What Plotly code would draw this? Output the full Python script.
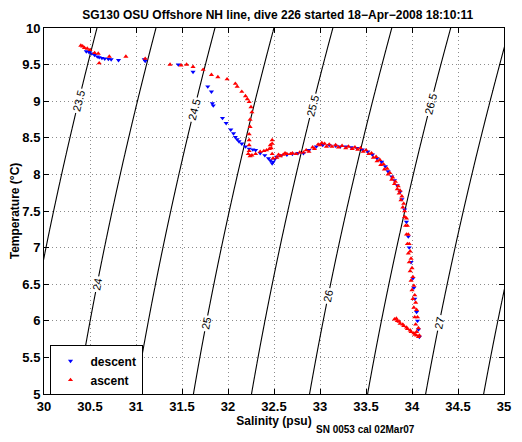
import numpy as np
import plotly.graph_objects as go

# ---- data ----
descent_S = [30.46, 30.49, 30.52, 30.55, 30.58, 30.60, 30.63, 30.66, 30.70, 30.73, 30.81, 31.09, 31.10,
             31.46, 31.62, 31.78, 31.82, 31.83, 31.84, 31.94, 31.98, 32.03, 32.06, 32.08, 32.10, 32.12,
             32.15, 32.19, 32.23, 32.27, 32.30, 32.35, 32.40, 32.44, 32.46, 32.48, 32.49, 32.51, 32.53,
             32.58, 32.64, 32.70, 32.76, 32.82, 32.88, 32.96, 33.03, 33.10, 33.17, 33.22, 33.28, 33.34,
             33.40, 33.46, 33.52, 33.57, 33.62, 33.67, 33.71, 33.74, 33.78, 33.81, 33.84, 33.87, 33.89,
             33.92, 33.94, 33.96, 33.97, 33.99, 34.01, 34.02, 34.03, 34.05, 34.06, 34.07, 34.08]
descent_T = [9.68, 9.67, 9.65, 9.63, 9.61, 9.60, 9.59, 9.58, 9.575, 9.57, 9.56, 9.57, 9.55,
             9.50, 9.40, 9.20, 9.13, 8.97, 8.94, 8.77, 8.70, 8.61, 8.56, 8.51, 8.48, 8.45,
             8.42, 8.38, 8.35, 8.34, 8.33, 8.29, 8.26, 8.22, 8.19, 8.15, 8.17, 8.21, 8.24,
             8.26, 8.27, 8.28, 8.29, 8.29, 8.33, 8.38, 8.40, 8.40, 8.39, 8.38, 8.38, 8.37,
             8.36, 8.34, 8.31, 8.27, 8.22, 8.17, 8.11, 8.04, 7.97, 7.92, 7.85, 7.76, 7.66,
             7.52, 7.35, 7.15, 7.00, 6.80, 6.58, 6.45, 6.30, 6.12, 6.00, 5.88, 5.78]

ascent_S = [33.81, 33.84, 33.87, 33.91, 33.95, 33.99, 34.03, 34.07, 34.08, 34.07, 34.06, 34.05, 34.04,
            34.03, 34.02, 34.01, 34.00, 33.99, 33.98, 33.97, 33.96, 33.95, 33.94, 33.92, 33.91, 33.89,
            33.87, 33.85, 33.82, 33.79, 33.76, 33.73, 33.69, 33.65, 33.61, 33.56, 33.50, 33.44, 33.38,
            33.31, 33.24, 33.17, 33.10, 33.05, 33.00, 32.94, 32.88, 32.82, 32.74, 32.68, 32.64, 32.60,
            32.57, 32.53, 32.49, 32.48, 32.47, 32.48, 32.48, 32.46, 32.45, 32.42, 32.39, 32.35, 32.30,
            32.26, 32.24, 32.22, 32.23, 32.23, 32.23, 32.23, 32.24, 32.24, 32.26, 32.25, 32.23, 32.21,
            32.19, 32.15, 32.10, 32.08, 31.99, 31.89, 31.82, 31.73, 31.62, 31.55, 31.49, 31.37, 31.10,
            30.89, 30.71, 30.60, 30.59, 30.55, 30.50, 30.47, 30.44, 30.42, 30.40,
            # inner edge of the thick deep band
            34.05, 34.04, 34.03, 34.02, 34.01, 34.00, 33.99, 33.98, 33.97, 33.96, 33.95, 33.94, 33.93,
            33.92, 33.90, 33.88, 33.86, 33.84, 33.81, 33.78, 33.74, 33.70, 33.66, 33.62, 33.58, 33.53,
            33.47, 33.41, 33.35, 33.28, 33.20, 33.13, 33.07,
            33.83, 33.86, 33.90, 33.94, 33.98, 34.02, 34.05,
            32.55, 32.62, 32.70, 32.78, 32.85, 32.92, 32.98, 33.02]
ascent_T = [6.02, 6.00, 5.96, 5.93, 5.89, 5.85, 5.81, 5.78, 5.80, 5.90, 6.05, 6.15, 6.25,
            6.35, 6.48, 6.60, 6.72, 6.85, 6.95, 7.05, 7.18, 7.30, 7.40, 7.50, 7.60, 7.70,
            7.78, 7.84, 7.90, 7.96, 8.02, 8.08, 8.14, 8.20, 8.24, 8.29, 8.33, 8.36, 8.37,
            8.38, 8.39, 8.40, 8.41, 8.42, 8.40, 8.35, 8.31, 8.30, 8.28, 8.28, 8.28, 8.27,
            8.25, 8.23, 8.22, 8.28, 8.36, 8.42, 8.47, 8.40, 8.35, 8.33, 8.32, 8.31, 8.28,
            8.26, 8.25, 8.28, 8.32, 8.40, 8.47, 8.55, 8.65, 8.75, 8.85, 8.92, 8.99, 9.03,
            9.07, 9.13, 9.20, 9.24, 9.30, 9.33, 9.36, 9.43, 9.47, 9.50, 9.49, 9.50, 9.58,
            9.61, 9.61, 9.52, 9.65, 9.66, 9.70, 9.72, 9.73, 9.75, 9.76,
            5.85, 5.95, 6.05, 6.18, 6.30, 6.42, 6.55, 6.68, 6.80, 6.92, 7.05, 7.18, 7.30,
            7.42, 7.55, 7.65, 7.74, 7.80, 7.87, 7.93, 8.00, 8.07, 8.13, 8.18, 8.23, 8.28,
            8.31, 8.34, 8.35, 8.36, 8.37, 8.38, 8.38,
            6.03, 5.99, 5.95, 5.91, 5.87, 5.83, 5.80,
            8.27, 8.29, 8.29, 8.30, 8.33, 8.37, 8.41, 8.43]

sigma_levels = [23.0, 28.0, 0.5]  # start, end, step
x_ticks = [30, 30.5, 31, 31.5, 32, 32.5, 33, 33.5, 34, 34.5, 35]
y_ticks = [5, 5.5, 6, 6.5, 7, 7.5, 8, 8.5, 9, 9.5, 10]

# ---- density grid (UNESCO EOS-80, p = 0) ----
Sg = np.linspace(29.8, 35.2, 220)
Tg = np.linspace(4.8, 10.2, 220)
S, T = np.meshgrid(Sg, Tg)
rho_w = (999.842594 + 6.793952e-2 * T - 9.095290e-3 * T**2 + 1.001685e-4 * T**3
         - 1.120083e-6 * T**4 + 6.536332e-9 * T**5)
A = 8.24493e-1 - 4.0899e-3 * T + 7.6438e-5 * T**2 - 8.2467e-7 * T**3 + 5.3875e-9 * T**4
B = -5.72466e-3 + 1.0227e-4 * T - 1.6546e-6 * T**2
C = 4.8314e-4
sigma = rho_w + A * S + B * S**1.5 + C * S**2 - 1000.0

FONT = "Liberation Sans"

fig = go.Figure()
fig.add_trace(go.Contour(
    x=Sg, y=Tg, z=sigma,
    contours=dict(start=sigma_levels[0], end=sigma_levels[1], size=sigma_levels[2],
                  coloring="lines", showlabels=True,
                  labelfont=dict(family=FONT, size=11, color="black")),
    colorscale=[[0, "black"], [1, "black"]],
    line=dict(width=1.1, color="black"),
    showscale=False, showlegend=False, hoverinfo="skip"))

fig.add_trace(go.Scatter(
    x=descent_S, y=descent_T, mode="markers", name="descent",
    marker=dict(symbol="triangle-down", size=4.5, color="#0000ff", line=dict(width=0))))
fig.add_trace(go.Scatter(
    x=ascent_S, y=ascent_T, mode="markers", name="ascent",
    marker=dict(symbol="triangle-up", size=4.5, color="#ff0000", line=dict(width=0))))

axis_common = dict(
    showline=True, linecolor="black", linewidth=1, mirror="allticks",
    ticks="inside", ticklen=5, tickcolor="black",
    showgrid=True, gridcolor="#8c8c8c", griddash="1px,3px", gridwidth=1,
    zeroline=False,
    tickfont=dict(family=FONT, size=13, color="black", weight=700),
)

fig.update_layout(
    width=522, height=442,
    margin=dict(l=43.5, r=11, t=27.7, b=47.5),
    paper_bgcolor="white", plot_bgcolor="white",
    title=dict(text="SG130 OSU Offshore NH line, dive 226 started 18\u2212Apr\u22122008 18:10:11",
               x=0.532, xanchor="center", y=0.967, yanchor="middle",
               font=dict(family=FONT, size=12, color="black", weight=700)),
    xaxis=dict(range=[30, 35], tickvals=x_ticks, ticktext=[f"{v:g}" for v in x_ticks],
               title=dict(text="Salinity (psu)", standoff=0,
                          font=dict(family=FONT, size=12, color="black", weight=700)),
               **axis_common),
    yaxis=dict(range=[5, 10], tickvals=y_ticks, ticktext=[f"{v:g}" for v in y_ticks],
               title=dict(text="Temperature (\u00b0C)", standoff=0,
                          font=dict(family=FONT, size=12, color="black", weight=700)),
               **axis_common),
    legend=dict(x=0.012, y=-0.004, xanchor="left", yanchor="bottom",
                bgcolor="white", bordercolor="black", borderwidth=1,
                font=dict(family=FONT, size=12, color="black", weight=700),
                itemsizing="trace", tracegroupgap=0),
    showlegend=True,
    annotations=[dict(text="SN 0053 cal 02Mar07", xref="paper", yref="paper",
                      x=0.699, y=-0.097, xanchor="center", yanchor="middle", showarrow=False,
                      font=dict(family=FONT, size=10, color="black", weight=700))],
)

fig.write_html("out.html", config={"displayModeBar": False},
               post_script="document.body.style.margin='0';")
